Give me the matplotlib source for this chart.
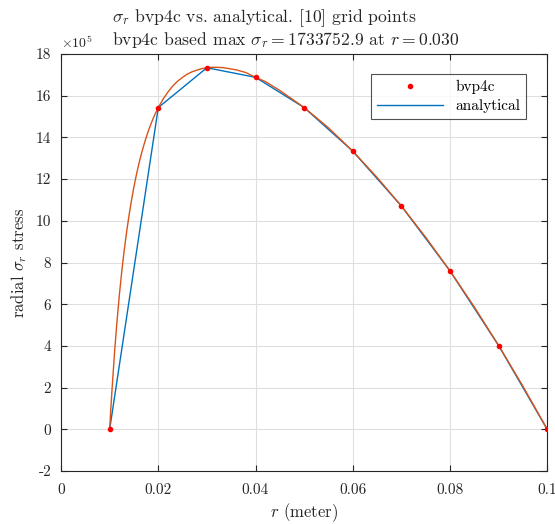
import numpy as np
import matplotlib
matplotlib.use('Agg')
import matplotlib.pyplot as plt

plt.rcParams['font.family'] = 'serif'
plt.rcParams['font.serif'] = ['cmr10']
plt.rcParams['mathtext.fontset'] = 'cm'
plt.rcParams['axes.unicode_minus'] = False
plt.rcParams['axes.formatter.use_mathtext'] = True

# bvp4c solution at grid points (stress in units of 1e5)
r_grid = [0.01, 0.02, 0.03, 0.04, 0.05, 0.06, 0.07, 0.08, 0.09, 0.10]
sigma_grid = [0.0, 15.43, 17.34, 16.88, 15.43, 13.34, 10.71, 7.60, 4.02, 0.0]

# analytical curve (units of 1e5)
r_ana = [0.010, 0.0102, 0.0105, 0.0108, 0.011, 0.0115, 0.012, 0.0125, 0.013, 0.0135,
         0.014, 0.0145, 0.015, 0.0155, 0.016, 0.0165, 0.017, 0.0175, 0.018, 0.0185,
         0.019, 0.0195, 0.020, 0.021, 0.022, 0.023, 0.024, 0.025, 0.026, 0.027,
         0.028, 0.029, 0.030, 0.031, 0.032, 0.033, 0.034, 0.035, 0.036, 0.038,
         0.040, 0.042, 0.045, 0.048, 0.050, 0.055, 0.060, 0.065, 0.070, 0.075,
         0.080, 0.085, 0.090, 0.095, 0.100]
sigma_ana = [0.0, 0.84, 1.96, 2.99, 3.68, 5.16, 6.46, 7.60, 8.60, 9.49,
             10.29, 11.00, 11.64, 12.21, 12.73, 13.19, 13.61, 13.99, 14.34, 14.65,
             14.94, 15.20, 15.43, 15.84, 16.18, 16.47, 16.70, 16.88, 17.04, 17.15,
             17.23, 17.30, 17.34, 17.36, 17.36, 17.35, 17.32, 17.28, 17.24, 17.11,
             16.88, 16.68, 16.25, 15.76, 15.43, 14.46, 13.34, 12.08, 10.71, 9.21,
             7.60, 5.87, 4.02, 2.07, 0.0]

fig = plt.figure(figsize=(5.55, 5.24), dpi=100)
ax = fig.add_axes([0.110, 0.101, 0.876, 0.796])

ax.plot(r_grid, sigma_grid, '.', color='red', markersize=6, label='bvp4c', zorder=4)
ax.plot(r_grid, sigma_grid, '-', color='#0072BD', linewidth=1.0, label='analytical', zorder=2)
ax.plot(r_ana, sigma_ana, '-', color='#D95319', linewidth=1.0, zorder=3)

ax.set_xlim(0, 0.1)
ax.set_ylim(-2, 18)
ax.set_xticks([0, 0.02, 0.04, 0.06, 0.08, 0.1])
ax.set_xticklabels(['0', '0.02', '0.04', '0.06', '0.08', '0.1'])
ax.set_yticks(np.arange(-2, 19, 2))
ax.set_yticklabels([str(v) for v in range(-2, 19, 2)])
ax.tick_params(direction='in', top=True, right=True, labelsize=11, length=4,
               color='#262626', labelcolor='#262626')
ax.tick_params(axis='x', pad=9)
ax.tick_params(axis='y', pad=7)
ax.grid(True, color='#dfdfdf', linewidth=0.8)
ax.set_axisbelow(True)
for s in ax.spines.values():
    s.set_color('#262626')
    s.set_linewidth(0.8)

ax.set_xlabel(r'$r$ (meter)', fontsize=12, color='#262626', labelpad=3)
ax.set_ylabel(r'radial $\sigma_r$ stress', fontsize=12, color='#262626', labelpad=5)
fig.text(112 / 555, 1 - 50 / 524,
         '$\\sigma_r$ bvp4c vs. analytical. [10] grid points\n'
         'bvp4c based max $\\sigma_r = 1733752.9$ at $r = 0.030$',
         fontsize=12.7, color='#262626', ha='left', va='bottom',
         multialignment='left', linespacing=1.05)
ax.text(0.0, 1.008, r'$\times10^5$', transform=ax.transAxes, fontsize=10,
        color='#262626', va='bottom', ha='left')

leg = ax.legend(loc='upper right', bbox_to_anchor=(0.957, 0.952), borderaxespad=0,
                fontsize=11, frameon=True, fancybox=False, edgecolor='#262626',
                handlelength=4.3, borderpad=0.4, labelspacing=0.3)
leg.get_frame().set_linewidth(0.8)

fig.savefig('out.png', dpi=100)
